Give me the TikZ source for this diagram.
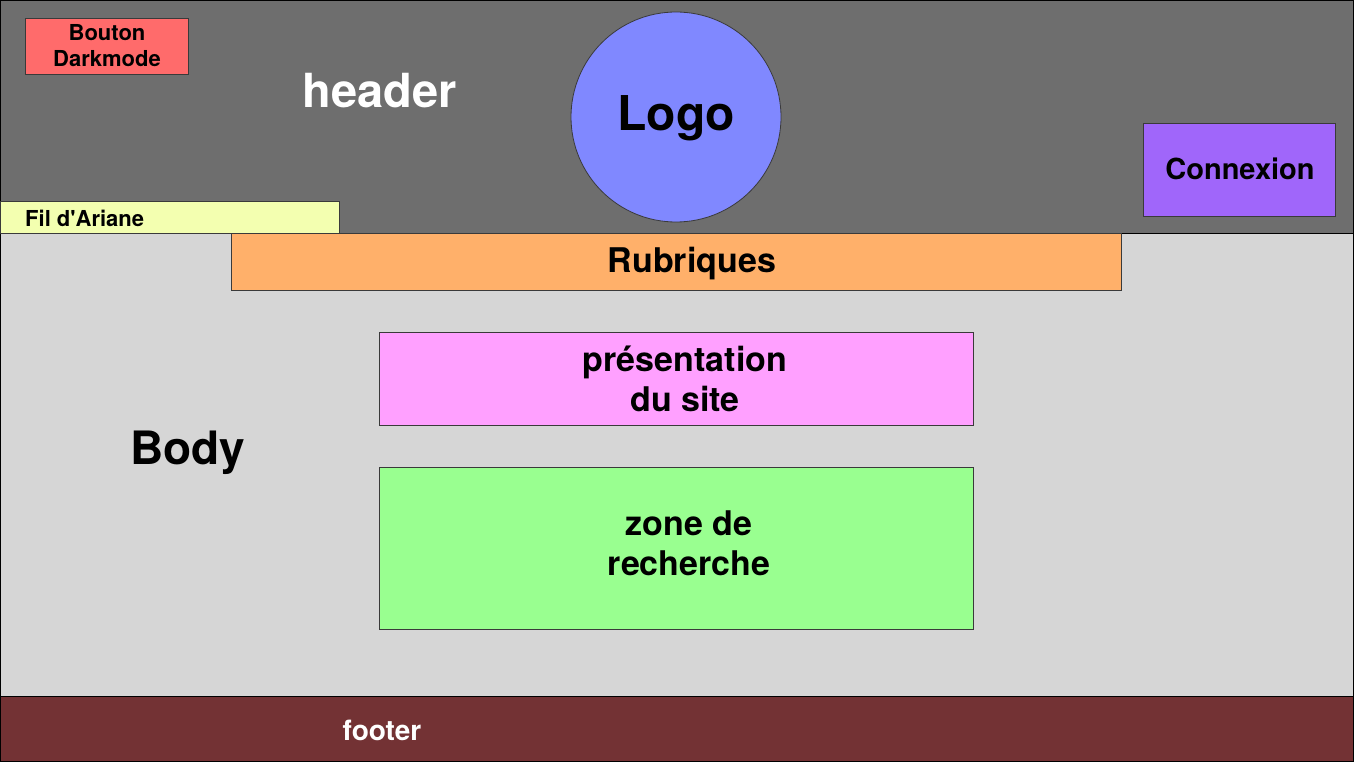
\documentclass[tikz,border=0pt]{standalone}
\usepackage{fontspec}
\setmainfont{TeX Gyre Heros}[Ligatures=TeXOff]
\definecolor{bodygray}{HTML}{D6D6D6}
\definecolor{headgray}{HTML}{6E6E6E}
\definecolor{btnred}{HTML}{FF6B6B}
\definecolor{logoblue}{HTML}{8088FF}
\definecolor{connviolet}{HTML}{A066FA}
\definecolor{filyellow}{HTML}{F3FFB0}
\definecolor{ruborange}{HTML}{FFB06A}
\definecolor{prespink}{HTML}{FFA0FF}
\definecolor{zonegreen}{HTML}{99FF90}
\definecolor{footbrown}{HTML}{733234}
\definecolor{edge}{HTML}{3A3A3A}
\begin{document}
\begin{tikzpicture}[x=1pt,y=-1pt,
  block/.style={draw=edge,line width=0.8pt,inner sep=0pt,outer sep=0pt},
  label/.style={font=\bfseries,align=center,inner sep=0pt}]
\useasboundingbox (0,0) rectangle (1354,762);
% page body and header band
\node[block,draw=black,fill=bodygray,anchor=north west,minimum width=1353pt,minimum height=761pt] (page) at (0.5,0.5) {};
\node[block,draw=black,fill=headgray,anchor=north west,minimum width=1353pt,minimum height=232.5pt] (header) at (0.5,0.5) {};
\node[block,draw=black,fill=footbrown,anchor=north west,minimum width=1353pt,minimum height=65.5pt] (footer) at (0.5,696) {};
% header contents
\node[block,fill=btnred,anchor=north west,minimum width=163pt,minimum height=56pt] (btn) at (25,18) {};
\node[label,font=\bfseries\fontsize{22}{26}\selectfont] at (107,46) {Bouton\\Darkmode};
\node[label,text=white,font=\bfseries\fontsize{47}{50}\selectfont] (headtxt) at (380,91) {header};
\node[block,circle,fill=logoblue,minimum size=210pt] (logo) at (676,117) {};
\node[label,font=\bfseries\fontsize{48}{50}\selectfont] at (676,118) {Logo};
\node[block,fill=connviolet,anchor=north west,minimum width=192pt,minimum height=93pt] (conn) at (1143,123) {};
\node[label,font=\bfseries\fontsize{29}{32}\selectfont] at (1240,169) {Connexion};
\node[block,fill=filyellow,anchor=north west,minimum width=339pt,minimum height=32pt] (fil) at (0,201) {};
\node[label,anchor=west,font=\bfseries\fontsize{22}{24}\selectfont] at (25,218) {Fil d'Ariane};
% body contents
\node[block,fill=ruborange,anchor=north west,minimum width=890pt,minimum height=57pt] (rub) at (231,233) {};
\node[label,font=\bfseries\fontsize{34}{36}\selectfont] at (692,264) {Rubriques};
\node[block,fill=prespink,anchor=north west,minimum width=594pt,minimum height=93pt] (pres) at (379,332) {};
\node[label,font=\bfseries\fontsize{34}{40}\selectfont] at (685,379) {présentation\\du site};
\node[block,fill=zonegreen,anchor=north west,minimum width=594pt,minimum height=162pt] (zone) at (379,467) {};
\node[label,font=\bfseries\fontsize{34}{40}\selectfont] at (689,543) {zone de\\recherche};
\node[label,font=\bfseries\fontsize{46}{50}\selectfont] (bodytxt) at (188,453) {Body};
\node[label,text=white,font=\bfseries\fontsize{28}{30}\selectfont] (foottxt) at (382,730) {footer};
\end{tikzpicture}
\end{document}
